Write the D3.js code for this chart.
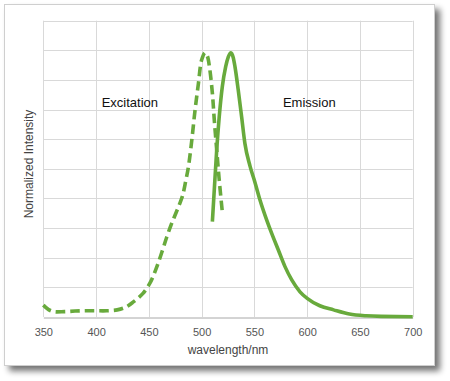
<!DOCTYPE html>
<html><head><meta charset="utf-8">
<script src="https://cdn.jsdelivr.net/npm/d3@7"></script>
<style>
html,body{margin:0;padding:0;background:#fff;}
svg{display:block;}
</style></head>
<body>
<svg id="c" width="450" height="381"></svg>
<script>
const xTicks = [350,400,450,500,550,600,650,700];
const yTicks = [0,0.1,0.2,0.3,0.4,0.5,0.6,0.7,0.8,0.9,1.0];

const excitationWl  = [350,355,360,370,380,390,400,410,420,428,435,444,451,457,462,467,471,475,479,482,485,487.5,490.7,493.8,497,500,503.3,505.5,507.4,510.2,512,514.3,516.7,519.6];
const excitationVal = [0.04,0.025,0.018,0.018,0.02,0.021,0.021,0.021,0.024,0.033,0.05,0.078,0.114,0.164,0.215,0.27,0.31,0.345,0.38,0.41,0.46,0.507,0.597,0.699,0.789,0.867,0.892,0.88,0.845,0.755,0.665,0.564,0.462,0.355];

const emissionWl  = [510.2,512,514.3,516.7,519.6,522.8,525.3,527.8,530,531.6,534.7,537.9,541,545.8,550.5,555.3,561.7,566.4,572.7,579,585.4,593.2,600,612,625,640,656,670,700];
const emissionVal = [0.322,0.429,0.564,0.676,0.777,0.845,0.878,0.892,0.875,0.845,0.766,0.676,0.586,0.51,0.455,0.395,0.327,0.282,0.226,0.17,0.125,0.085,0.063,0.038,0.024,0.01,0.004,0.002,0.001];

const labels = [{text:"Excitation", wl:405.3}, {text:"Emission", wl:577}];

const svg = d3.select("#c");
const defs = svg.append("defs");
const f = defs.append("filter").attr("id","sh").attr("x","-10%").attr("y","-10%").attr("width","130%").attr("height","130%");
f.append("feGaussianBlur").attr("in","SourceAlpha").attr("stdDeviation",3);
f.append("feOffset").attr("dx",5).attr("dy",5).attr("result","b");
f.append("feComponentTransfer").append("feFuncA").attr("type","linear").attr("slope",0.55);
const m = f.append("feMerge");
m.append("feMergeNode");
m.append("feMergeNode").attr("in","SourceGraphic");

svg.append("rect").attr("x",4.5).attr("y",4.5).attr("width",430).attr("height",361)
  .attr("fill","#fff").attr("stroke","#cfcfcf").attr("filter","url(#sh)");

const x = d3.scaleLinear().domain([350,700]).range([43.3,412.7]);
const y = d3.scaleLinear().domain([0,1]).range([317,20.7]);

const g = svg.append("g");
g.selectAll(".vg").data(xTicks).join("line")
  .attr("x1",d=>Math.round(x(d))+0.5).attr("x2",d=>Math.round(x(d))+0.5)
  .attr("y1",y(1)).attr("y2",y(0)).attr("stroke","#d9d9d9").attr("stroke-width",1);
g.selectAll(".hg").data(yTicks.slice(1)).join("line")
  .attr("x1",x(350)).attr("x2",x(700))
  .attr("y1",d=>Math.round(y(d))+0.5).attr("y2",d=>Math.round(y(d))+0.5)
  .attr("stroke","#d9d9d9").attr("stroke-width",1);

const xAxis = d3.axisBottom(x).tickValues(xTicks).tickSize(0).tickPadding(0);
const ax = g.append("g").attr("transform",`translate(0,${Math.round(y(0))+0.5})`).call(xAxis);
ax.select(".domain").attr("stroke","#a8a8a8");
ax.selectAll("text").attr("font-family","'Liberation Sans',Arial,sans-serif")
  .attr("font-size",11).attr("fill","#555").attr("dy",null).attr("y",18.5);

const green = "#68aa3c";
const exLine = d3.line().x(d=>x(d[0])).y(d=>y(d[1])).curve(d3.curveCatmullRom.alpha(0.5));
const emLine = d3.line().x(d=>x(d[0])).y(d=>y(d[1])).curve(d3.curveMonotoneX);
g.append("path").datum(excitationWl.map((w,i)=>[w,excitationVal[i]]))
  .attr("d",exLine).attr("fill","none").attr("stroke",green).attr("stroke-width",3.6)
  .attr("stroke-dasharray","9.5,5");
g.append("path").datum(emissionWl.map((w,i)=>[w,emissionVal[i]]))
  .attr("d",emLine).attr("fill","none").attr("stroke",green).attr("stroke-width",3.6)
  .attr("stroke-linejoin","round");

g.selectAll(".lbl").data(labels).join("text")
  .attr("x",d=>x(d.wl)).attr("y",106.5)
  .attr("font-family","'Liberation Sans',Arial,sans-serif").attr("font-size",13).attr("fill","#111")
  .text(d=>d.text);

svg.append("text").attr("x",228).attr("y",354).attr("text-anchor","middle")
  .attr("font-family","'Liberation Sans',Arial,sans-serif").attr("font-size",12).attr("fill","#444")
  .text("wavelength/nm");
svg.append("text").attr("transform","translate(32.5,164) rotate(-90)").attr("text-anchor","middle")
  .attr("font-family","'Liberation Sans',Arial,sans-serif").attr("font-size",12).attr("fill","#444")
  .text("Normalized Intensity");
</script>
</body></html>
